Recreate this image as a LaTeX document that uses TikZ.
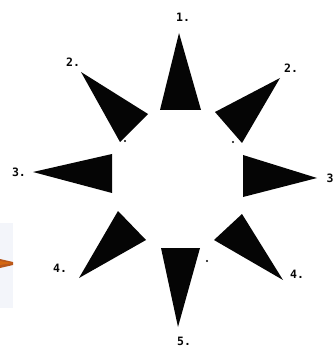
\documentclass[tikz,border=0pt]{standalone}
\usepackage{fontspec}
\setmonofont{DejaVu Sans Mono}
\usepackage{tikz}
\usetikzlibrary{positioning}
\definecolor{PaleSheet}{HTML}{F3F5FA}
\definecolor{RustBrown}{HTML}{B8571C}
\definecolor{InkBlack}{HTML}{050505}

\begin{document}
\begin{tikzpicture}[x=1pt,y=-1pt,
    ray/.style={fill=InkBlack},
    num/.style={inner sep=0pt,font=\ttfamily\bfseries\fontsize{11.5}{11.5}\selectfont,text=InkBlack},
    speck/.style={fill=InkBlack,radius=1.1}]
    \useasboundingbox (0,0) rectangle (336,347);
    % cut-off piece on the left edge
    \fill[PaleSheet] (0,223) rectangle (13,308);
    \fill[RustBrown] (0,259) -- (13,262) -- (13,265) -- (0,268) -- cycle;
    \fill[RustBrown!60!orange] (0,261) -- (13,263) -- (0,265) -- cycle;
    % the eight rays
    \fill[ray] (179,33) -- (160,110) -- (201,110) -- cycle;
    \fill[ray] (280,78) -- (215,112) -- (242,143) -- cycle;
    \fill[ray] (81,72) -- (148,114) -- (120,142) -- cycle;
    \fill[ray] (33,172) -- (112,154) -- (112,193) -- cycle;
    \fill[ray] (317,178) -- (243,155) -- (243,197) -- cycle;
    \fill[ray] (79,278) -- (118,211) -- (146,240) -- cycle;
    \fill[ray] (283,280) -- (242,214) -- (214,240) -- cycle;
    \fill[ray] (178,327) -- (161,248) -- (200,248) -- cycle;
    % numbers
    \node[num] (top) at (183,17) {1.};
    \node[num] (upright) at (291,68) {2.};
    \node[num] (upleft) at (73,62) {2.};
    \node[num] (left) at (19,172) {3.};
    \node[num] (right) at (330,178) {3};
    \node[num] (lowleft) at (60,268) {4.};
    \node[num] (lowright) at (297,274) {4.};
    \node[num] (bottom) at (184,341) {5.};
    % specks
    \fill[speck] (125,141) circle;
    \fill[speck] (233,142) circle;
    \fill[speck] (207,261) circle;
\end{tikzpicture}
\end{document}
